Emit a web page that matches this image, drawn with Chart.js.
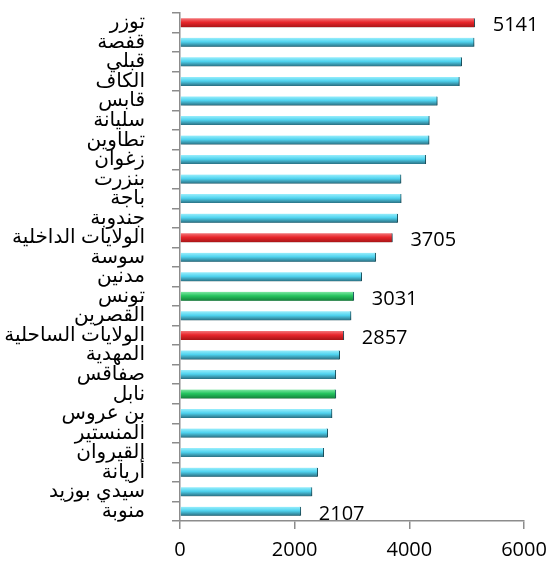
<!DOCTYPE html>
<html lang="ar">
<head>
  <meta charset="UTF-8" />
  <title>الولايات</title>
  <style>
    body { margin: 0; background: #fff; }
  </style>
</head>
<body>
  <canvas id="barras" width="552" height="567"></canvas>

  <script src="https://cdn.jsdelivr.net/npm/chart.js"></script>
  <script>
    const categorias = [
      'توزر', 'قفصة', 'قبلي', 'الكاف', 'قابس', 'سليانة', 'تطاوين', 'زغوان',
      'بنزرت', 'باجة', 'جندوبة', 'الولايات الداخلية', 'سوسة', 'مدنين', 'تونس',
      'القصرين', 'الولايات الساحلية', 'المهدية', 'صفاقس', 'نابل', 'بن عروس',
      'المنستير', 'القيروان', 'أريانة', 'سيدي بوزيد', 'منوبة'
    ];
    const valores = [
      5141, 5130, 4913, 4873, 4488, 4349, 4345, 4286,
      3855, 3858, 3797, 3705, 3414, 3169, 3031,
      2983, 2857, 2785, 2716, 2718, 2651,
      2576, 2506, 2401, 2302, 2107
    ];
    // tipo de barra: r = rojo, g = verde, c = celeste
    const tipos = [
      'r', 'c', 'c', 'c', 'c', 'c', 'c', 'c',
      'c', 'c', 'c', 'r', 'c', 'c', 'g',
      'c', 'r', 'c', 'c', 'g', 'c',
      'c', 'c', 'c', 'c', 'c'
    ];
    const conEtiqueta = [0, 11, 14, 16, 25];
    const ticksX = [0, 2000, 4000, 6000];

    const paletas = {
      r: ['#f4777a', '#e8262b', '#a81517'],
      g: ['#7fe8a4', '#25c45e', '#14803a'],
      c: ['#9aeefc', '#4fd3ef', '#2a6f82']
    };

    const relleno = (c) => {
      const chart = c.chart;
      const esc = chart.scales.y;
      const p = paletas[tipos[c.dataIndex]] || paletas.c;
      if (!esc || c.dataIndex === undefined) return p[1];
      const y = esc.getPixelForValue(c.dataIndex);
      if (!isFinite(y)) return p[1];
      const g = chart.ctx.createLinearGradient(0, y - 4.5, 0, y + 4.5);
      g.addColorStop(0, p[0]);
      g.addColorStop(0.45, p[1]);
      g.addColorStop(1, p[2]);
      return g;
    };

    const sombra = {
      id: 'sombra',
      beforeDatasetDraw(chart) {
        const ctx = chart.ctx;
        ctx.save();
        ctx.shadowColor = 'rgba(0,0,0,0.4)';
        ctx.shadowBlur = 5;
        ctx.shadowOffsetY = 5;
      },
      afterDatasetDraw(chart) {
        chart.ctx.restore();
      }
    };

    const etiquetas = {
      id: 'etiquetas',
      afterDatasetsDraw(chart) {
        const ctx = chart.ctx;
        const meta = chart.getDatasetMeta(0);
        ctx.save();
        ctx.font = '20px "Open Sans", "Liberation Sans", sans-serif';
        ctx.fillStyle = '#000';
        ctx.textAlign = 'left';
        ctx.textBaseline = 'middle';
        conEtiqueta.forEach(i => {
          const el = meta.data[i];
          ctx.fillText(String(valores[i]), el.x + 18, el.y + 3);
        });
        ctx.restore();
      }
    };

    const grafico = new Chart(document.getElementById('barras'), {
      type: 'bar',
      data: {
        labels: categorias,
        datasets: [{
          data: valores,
          backgroundColor: relleno,
          borderColor: '#1f5866',
          borderWidth: { right: 1 },
          borderSkipped: false,
          barThickness: 9
        }]
      },
      options: {
        indexAxis: 'y',
        responsive: false,
        animation: false,
        layout: { padding: { top: 13, right: 28, left: 0, bottom: 0 } },
        plugins: {
          legend: { display: false },
          tooltip: { enabled: false }
        },
        scales: {
          y: {
            afterFit: (s) => { s.width = 180; s.paddingTop = 0; s.paddingBottom = 0; },
            grid: {
              offset: true,
              drawOnChartArea: false,
              tickLength: 8,
              color: '#8c8c8c',
              lineWidth: 1.5
            },
            border: { color: '#8c8c8c', width: 1.5 },
            ticks: {
              autoSkip: false,
              padding: 27,
              color: '#000',
              font: { family: '"Liberation Sans", "DejaVu Sans", sans-serif', size: 20 }
            }
          },
          x: {
            min: 0,
            max: 6000,
            afterFit: (s) => { s.height = 46; s.paddingLeft = 0; s.paddingRight = 0; },
            afterBuildTicks: (s) => { s.ticks = ticksX.map(v => ({ value: v })); },
            grid: {
              drawOnChartArea: false,
              tickLength: 8,
              color: '#8c8c8c',
              lineWidth: 1.5
            },
            border: { color: '#8c8c8c', width: 1.5 },
            ticks: {
              padding: 9,
              color: '#000',
              maxRotation: 0,
              callback: (v) => String(v),
              font: { family: '"Open Sans", "Liberation Sans", sans-serif', size: 20 }
            }
          }
        }
      },
      plugins: [sombra, etiquetas]
    });
    // segundo pase para que los degradados usen la escala ya medida
    grafico.update();
  </script>
</body>
</html>
